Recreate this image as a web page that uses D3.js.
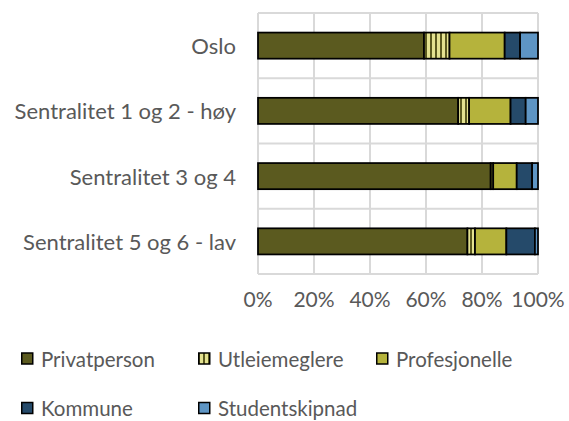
<!DOCTYPE html>
<html><head><meta charset="utf-8">
<script src="https://cdn.jsdelivr.net/npm/d3@7"></script>
<style>body{margin:0;background:#fff}svg{display:block}</style>
</head><body>
<script>
const categories = ["Oslo", "Sentralitet 1 og 2 - høy", "Sentralitet 3 og 4", "Sentralitet 5 og 6 - lav"];
const seriesNames = ["Privatperson", "Utleiemeglere", "Profesjonelle", "Kommune", "Studentskipnad"];
const privatperson = [59.3, 71.5, 83.1, 74.8];
const utleiemeglere = [9.1, 3.9, 0.9, 2.7];
const profesjonelle = [19.7, 14.8, 8.4, 11.2];
const kommune = [5.5, 5.4, 5.5, 10.2];
const studentskipnad = [6.4, 4.4, 2.1, 1.1];
const tickValues = [0, 20, 40, 60, 80, 100];

const W = 569, H = 421;
const m = {left: 258, right: 31, top: 13, bottom: 147};
const svg = d3.select("body").append("svg").attr("width", W).attr("height", H);
const font = "Lato, 'Open Sans', sans-serif";

const defs = svg.append("defs");
const pat = defs.append("pattern").attr("id", "stripes").attr("patternUnits", "userSpaceOnUse")
  .attr("width", 5).attr("height", 5);
pat.append("rect").attr("width", 5).attr("height", 5).attr("fill", "#E4E290");
pat.append("rect").attr("width", 2).attr("height", 5).attr("fill", "#5B5A1F");

const fills = ["#5B5A1F", "url(#stripes)", "#B5B33C", "#254A6A", "#5E95C4"];

const x = d3.scaleLinear().domain([0, 100]).range([m.left, W - m.right]);
const y = d3.scaleBand().domain(categories).range([m.top, H - m.bottom]).paddingInner(0.6).paddingOuter(0.3);

// gridlines
svg.append("g").selectAll("line").data(tickValues).join("line")
  .attr("x1", d => x(d)).attr("x2", d => x(d))
  .attr("y1", m.top).attr("y2", H - m.bottom)
  .attr("stroke", "#d9d9d9").attr("stroke-width", 2);
const bounds = d3.range(categories.length + 1).map(i => m.top + i * (H - m.top - m.bottom) / categories.length);
svg.append("g").selectAll("line").data(bounds).join("line")
  .attr("x1", x(0)).attr("x2", x(100))
  .attr("y1", d => d).attr("y2", d => d)
  .attr("stroke", "#d9d9d9").attr("stroke-width", 2);

const data = [privatperson, utleiemeglere, profesjonelle, kommune, studentskipnad];
const rows = categories.map((c, i) => {
  const o = {cat: c};
  seriesNames.forEach((s, j) => o[s] = data[j][i]);
  return o;
});
const stack = d3.stack().keys(seriesNames)(rows);

svg.append("g").selectAll("g").data(stack).join("g")
  .attr("fill", (d, i) => fills[i])
  .selectAll("rect").data(d => d).join("rect")
  .attr("x", d => x(d[0]))
  .attr("width", d => x(d[1]) - x(d[0]))
  .attr("y", d => y(d.data.cat))
  .attr("height", y.bandwidth())
  .attr("stroke", "#000").attr("stroke-width", 1.75);

// category labels
svg.append("g").selectAll("text").data(categories).join("text")
  .attr("x", 236).attr("y", d => y(d) + y.bandwidth() / 2)
  .attr("text-anchor", "end").attr("dominant-baseline", "central")
  .attr("font-family", font).attr("font-size", 22).attr("fill", "#595959")
  .text(d => d);

// x tick labels
svg.append("g").selectAll("text").data(tickValues).join("text")
  .attr("x", d => x(d)).attr("y", 298)
  .attr("text-anchor", "middle").attr("dominant-baseline", "central")
  .attr("font-family", font).attr("font-size", 21).attr("fill", "#595959")
  .text(d => d + "%");

// legend
const legPos = [[21, 358.5], [198, 358.5], [376, 358.5], [21, 408], [198, 408]];
const lg = svg.append("g").selectAll("g").data(seriesNames).join("g")
  .attr("transform", (d, i) => `translate(${legPos[i][0]},${legPos[i][1]})`);
lg.append("rect").attr("x", 0.75).attr("y", -5.5).attr("width", 11).attr("height", 11)
  .attr("fill", (d, i) => fills[i]).attr("stroke", "#000").attr("stroke-width", 1.5);
lg.append("text").attr("x", 20).attr("y", 0).attr("dominant-baseline", "central")
  .attr("font-family", font).attr("font-size", 20.5).attr("fill", "#595959")
  .text(d => d);
</script>
</body></html>
